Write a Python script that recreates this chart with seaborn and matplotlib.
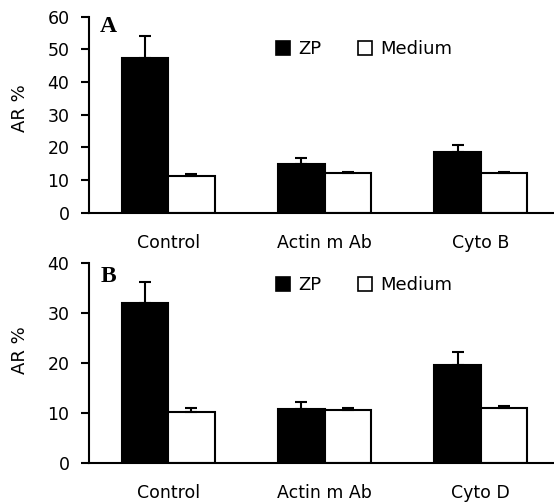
import pandas as pd
import matplotlib
matplotlib.use("Agg")
import matplotlib.pyplot as plt
from matplotlib.patches import Patch
import seaborn as sns

# valores
conditions = ["ZP", "Medium"]

groups_a = ["Control", "Actin m Ab", "Cyto B"]
zp_a = [47.5, 14.9, 18.5]
zp_a_err = [6.6, 1.9, 2.3]
medium_a = [11.2, 12.2, 12.2]
medium_a_err = [0.6, 0.4, 0.4]

groups_b = ["Control", "Actin m Ab", "Cyto D"]
zp_b = [32.0, 10.9, 19.7]
zp_b_err = [4.2, 1.4, 2.6]
medium_b = [10.3, 10.6, 11.0]
medium_b_err = [0.7, 0.5, 0.5]

sns.set_style("ticks", {"axes.edgecolor": "black", "text.color": "black",
                        "axes.labelcolor": "black", "xtick.color": "black",
                        "ytick.color": "black"})
plt.rcParams["font.family"] = ["DejaVu Sans"]
plt.rcParams["font.size"] = 12.5


def make_df(groups, zp, zp_err, med, med_err):
    rows = []
    for g, v, e in zip(groups, zp, zp_err):
        rows.append({"group": g, "condition": "ZP", "value": v, "err": e})
    for g, v, e in zip(groups, med, med_err):
        rows.append({"group": g, "condition": "Medium", "value": v, "err": e})
    return pd.DataFrame(rows)


def panel(ax, df, groups, ymax, letter, letter_y, legend_y, ylabel_y):
    sns.barplot(data=df, x="group", y="value", hue="condition",
                order=groups, hue_order=conditions,
                palette={"ZP": "black", "Medium": "white"},
                edgecolor="black", linewidth=1.5, width=0.595,
                errorbar=None, legend=False, ax=ax)
    # barras de error solo hacia arriba
    for cond, cont in zip(conditions, ax.containers):
        sub = df[df["condition"] == cond].set_index("group").loc[groups]
        xs = [b.get_x() + b.get_width() / 2 for b in cont]
        ax.errorbar(xs, sub["value"], yerr=[[0] * len(xs), sub["err"]],
                    fmt="none", ecolor="black", elinewidth=1.5,
                    capsize=4, capthick=1.5, zorder=5)
    ax.set_xlim(-0.507, 2.468)
    ax.set_ylim(0, ymax)
    ax.set_yticks(range(0, ymax + 1, 10))
    ax.set_xlabel("")
    ax.set_ylabel("AR %", fontsize=13, color="black")
    ax.yaxis.set_label_coords(-0.128, ylabel_y)
    sns.despine(ax=ax)
    ax.spines["left"].set_linewidth(1.5)
    ax.spines["bottom"].set_linewidth(1.5)
    ax.tick_params(axis="y", length=6, width=1.5, pad=8, labelsize=12.5,
                   colors="black")
    ax.tick_params(axis="x", length=0, pad=15, labelsize=12.5,
                   colors="black")
    ax.text(0.024, letter_y, letter, transform=ax.transAxes,
            fontfamily="Liberation Serif", fontweight="bold", fontsize=17,
            va="baseline", ha="left", color="black")
    handles = [Patch(facecolor="black", edgecolor="black", linewidth=1.2),
               Patch(facecolor="white", edgecolor="black", linewidth=1.2)]
    ax.legend(handles, conditions, ncol=2, frameon=False,
              loc="center left", bbox_to_anchor=(0.498, legend_y),
              bbox_transform=ax.figure.transFigure,
              borderpad=0, borderaxespad=0, handlelength=0.8,
              handleheight=0.8, handletextpad=0.45, columnspacing=2.0,
              fontsize=13, labelcolor="black")


fig = plt.figure(figsize=(5.54, 5.04), dpi=100)
ax_a = fig.add_axes([0.1606, 0.5778, 0.8394, 0.389])
ax_b = fig.add_axes([0.1606, 0.0808, 0.8394, 0.3968])

df_a = make_df(groups_a, zp_a, zp_a_err, medium_a, medium_a_err)
df_b = make_df(groups_b, zp_b, zp_b_err, medium_b, medium_b_err)

panel(ax_a, df_a, groups_a, 60, "A", 0.92, 0.9028, 0.534)
panel(ax_b, df_b, groups_b, 40, "B", 0.907, 0.4345, 0.567)

fig.savefig("out.png", dpi=100)
